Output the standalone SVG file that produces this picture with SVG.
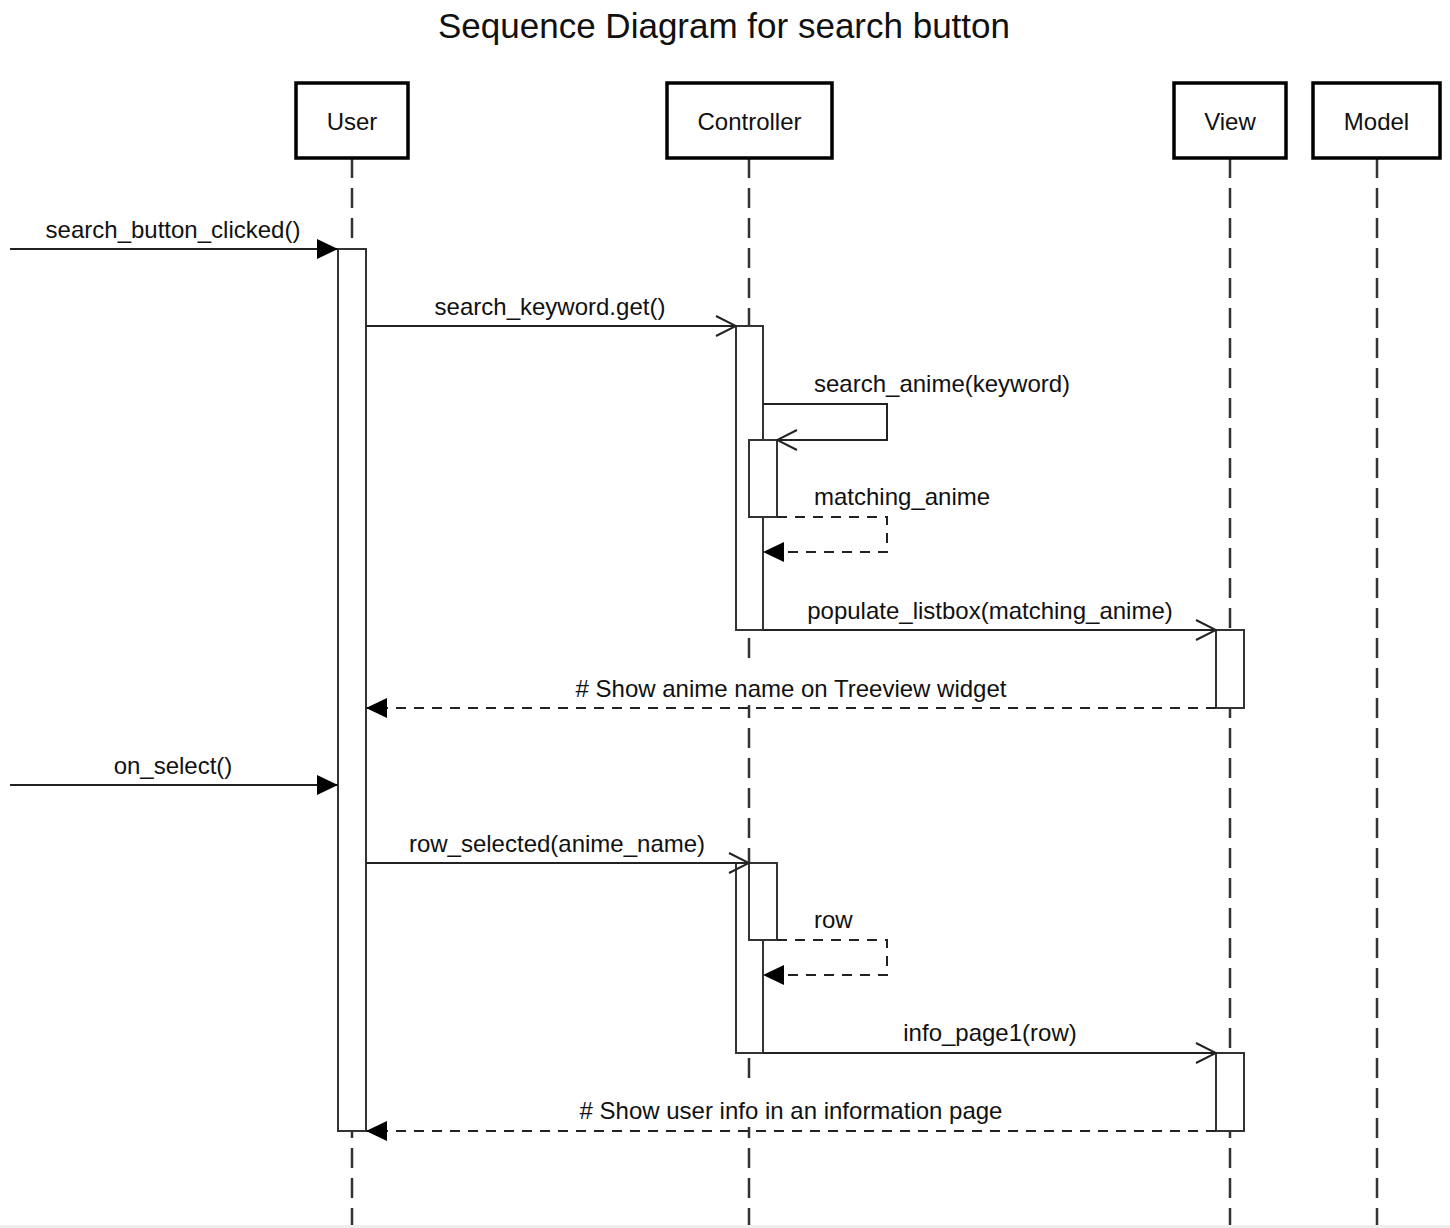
<svg xmlns="http://www.w3.org/2000/svg" width="1450" height="1228" viewBox="0 0 1450 1228">
<defs>
<style>
text{font-family:"Liberation Sans",Arial,Helvetica,sans-serif;fill:#111;}
.title{font-size:35px;text-anchor:middle;}
.lbl{font-size:24px;}
.mid{text-anchor:middle;}
.bg{fill:#fff;stroke:none;}
.box{fill:#fff;stroke:#000;stroke-width:3.5;}
.life{fill:none;stroke:#333;stroke-width:2.5;stroke-dasharray:20 10;}
.act{fill:#fff;stroke:#333;stroke-width:2;}
.msg{fill:none;stroke:#222;stroke-width:2;}
.ret{fill:none;stroke:#222;stroke-width:2;stroke-dasharray:10 8;}
</style>
<marker id="filled" viewBox="0 0 21 20" refX="21" refY="10" markerWidth="21" markerHeight="20" markerUnits="userSpaceOnUse" orient="auto">
<path d="M0,0 L21,10 L0,20 z" fill="#000"/>
</marker>
<marker id="open" viewBox="-1 -1 23 22" refX="20" refY="10" markerWidth="23" markerHeight="22" markerUnits="userSpaceOnUse" orient="auto">
<path d="M0,0 L20,10 L0,20" fill="none" stroke="#222" stroke-width="2"/>
</marker>
</defs>
<rect x="0" y="0" width="1450" height="1228" fill="#fff"/>
<rect x="0" y="1225" width="1450" height="3" fill="#eeeeee"/>
<text class="title" x="724" y="38">Sequence Diagram for search button</text>

<g id="lifelines">
<line class="life" x1="352" y1="158" x2="352" y2="1225"/>
<line class="life" x1="749" y1="158" x2="749" y2="1225"/>
<line class="life" x1="1230" y1="158" x2="1230" y2="1225"/>
<line class="life" x1="1377" y1="158" x2="1377" y2="1225"/>
</g>

<g id="user">
<rect class="box" x="296" y="83" width="112" height="75"/>
<text class="lbl mid" x="352" y="130">User</text>
</g>
<g id="controller">
<rect class="box" x="667" y="83" width="165" height="75"/>
<text class="lbl mid" x="749.5" y="130">Controller</text>
</g>
<g id="view">
<rect class="box" x="1174" y="83" width="112" height="75"/>
<text class="lbl mid" x="1230" y="130">View</text>
</g>
<g id="model">
<rect class="box" x="1313" y="83" width="127" height="75"/>
<text class="lbl mid" x="1376.5" y="130">Model</text>
</g>

<g id="activations">
<rect id="act-user" class="act" x="338" y="249" width="28" height="882"/>
<rect id="act-ctrl-1" class="act" x="736" y="326" width="27" height="304"/>
<rect id="act-ctrl-1b" class="act" x="749" y="440" width="28" height="77"/>
<rect id="act-view-1" class="act" x="1216" y="630" width="28" height="78"/>
<rect id="act-ctrl-2" class="act" x="736" y="863" width="27" height="190"/>
<rect id="act-ctrl-2b" class="act" x="749" y="863" width="28" height="77"/>
<rect id="act-view-2" class="act" x="1216" y="1053" width="28" height="78"/>
</g>

<g id="connectors">
<line class="msg" x1="10" y1="249" x2="338" y2="249" marker-end="url(#filled)"/>
<line class="msg" x1="366" y1="326" x2="736" y2="326" marker-end="url(#open)"/>
<polyline class="msg" points="763,404 887,404 887,440 777,440" marker-end="url(#open)"/>
<polyline class="ret" points="777,517 887,517 887,552 763,552" marker-end="url(#filled)"/>
<line class="msg" x1="763" y1="630" x2="1216" y2="630" marker-end="url(#open)"/>
<line class="ret" x1="1216" y1="708" x2="366" y2="708" marker-end="url(#filled)"/>
<line class="msg" x1="10" y1="785" x2="338" y2="785" marker-end="url(#filled)"/>
<line class="msg" x1="366" y1="863" x2="749" y2="863" marker-end="url(#open)"/>
<polyline class="ret" points="777,940 887,940 887,975 763,975" marker-end="url(#filled)"/>
<line class="msg" x1="763" y1="1053" x2="1216" y2="1053" marker-end="url(#open)"/>
<line class="ret" x1="1216" y1="1131" x2="366" y2="1131" marker-end="url(#filled)"/>
</g>

<g id="labels">
<text class="lbl mid" x="173" y="238">search_button_clicked()</text>
<text class="lbl mid" x="550" y="315">search_keyword.get()</text>
<text class="lbl" x="814" y="392">search_anime(keyword)</text>
<text class="lbl" x="814" y="505">matching_anime</text>
<text class="lbl mid" x="990" y="619">populate_listbox(matching_anime)</text>
<rect class="bg" x="574" y="666" width="434" height="39"/>
<text class="lbl mid" x="791" y="697"># Show anime name on Treeview widget</text>
<text class="lbl mid" x="173" y="774">on_select()</text>
<text class="lbl mid" x="557" y="852">row_selected(anime_name)</text>
<text class="lbl" x="814" y="928">row</text>
<text class="lbl mid" x="990" y="1041">info_page1(row)</text>
<rect class="bg" x="578" y="1086" width="426" height="41"/>
<text class="lbl mid" x="791" y="1119"># Show user info in an information page</text>
</g>
</svg>
